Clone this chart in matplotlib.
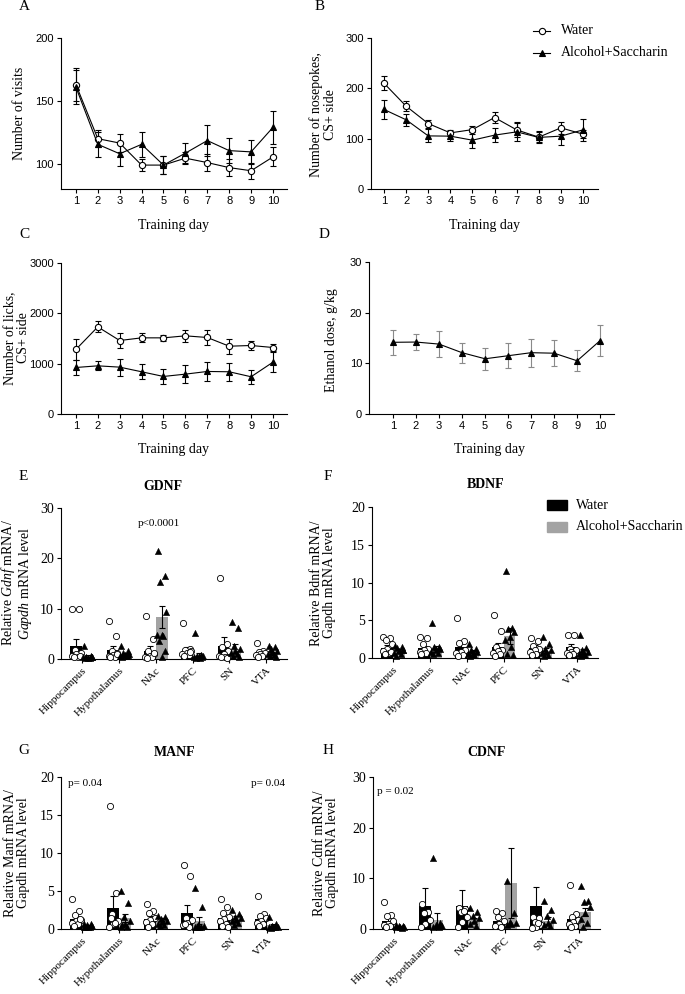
import numpy as np
import matplotlib
matplotlib.use('Agg')
import matplotlib.pyplot as plt
from matplotlib.lines import Line2D
from matplotlib.patches import Rectangle

plt.rcParams['font.family'] = 'Liberation Serif'
plt.rcParams['mathtext.fontset'] = 'custom'
plt.rcParams['mathtext.rm'] = 'Liberation Serif'
plt.rcParams['mathtext.it'] = 'Liberation Serif:italic'
plt.rcParams['axes.linewidth'] = 0.8

W, H = 685, 994
SANS = 'Liberation Sans'
GREY = '#a3a3a3'

# ---- behaviour data (mean, SEM per training day) ----
days = np.arange(1, 11)

visits_water = [163, 120, 116.5, 99, 99, 104.5, 101, 97, 94.5, 105.5]
visits_water_sem = [13, 7, 7, 5, 7, 5, 7, 6.5, 6.5, 7.5]
visits_alc = [161, 115.5, 108, 115.5, 99, 108.5, 118.5, 110.5, 109.5, 129]
visits_alc_sem = [13.5, 10, 9.5, 10, 7, 8, 12, 10, 9.5, 13]

nose_water = [210, 164.5, 130, 111.5, 118, 142, 117.5, 103, 121.5, 109]
nose_water_sem = [14, 10, 8, 6, 8, 11, 15, 12, 12, 8]
nose_alc = [158, 137.5, 105.5, 105, 97, 107, 113.5, 102.5, 105, 117.5]
nose_alc_sem = [18, 12, 13, 10, 16, 14, 18, 10, 18, 22]

licks_water = [1282, 1731, 1460, 1513, 1513, 1553, 1520, 1347, 1361, 1321]
licks_water_sem = [200, 110, 150, 90, 60, 120, 140, 150, 90, 60]
licks_alc = [924, 957, 931, 839, 746, 792, 845, 839, 740, 1030]
licks_alc_sem = [150, 90, 170, 150, 150, 180, 190, 180, 140, 200]

dose = [14.15, 14.2, 13.8, 12.1, 10.9, 11.5, 12.1, 12.0, 10.5, 14.5]
dose_sem = [2.5, 1.6, 2.5, 2.0, 2.2, 2.5, 2.8, 2.6, 2.1, 3.0]

# ---- qPCR data ----
regions = ['Hippocampus', 'Hypothalamus', 'NAc', 'PFC', 'SN', 'VTA']

gdnf_water_mean = [2.65, 1.85, 1.5, 1.6, 2.65, 1.45]
gdnf_water_sem = [1.25, 0.8, 1.1, 0.8, 1.75, 0.3]
gdnf_alc_mean = [0.45, 0.9, 8.3, 0.6, 2.05, 1.1]
gdnf_alc_sem = [0.25, 0.25, 2.2, 0.5, 0.85, 0.25]
gdnf_water_pts = [[10.0, 10.0, 1.8, 1.2, 0.9, 0.6, 0.4, 0.3, 0.5],
                  [7.5, 4.6, 1.5, 1.2, 0.8, 0.6, 0.4, 0.3, 0.9],
                  [8.5, 3.9, 1.5, 1.0, 0.6, 0.4, 0.3, 0.2, 1.2],
                  [7.2, 2.0, 1.8, 1.5, 1.2, 1.0, 0.7, 0.5, 1.4],
                  [16.0, 2.9, 2.4, 1.5, 1.0, 0.6, 0.4, 0.3, 0.2],
                  [3.1, 1.6, 1.4, 1.2, 1.0, 0.8, 0.6, 0.4]]
gdnf_alc_pts = [[2.6, 0.6, 0.4, 0.3, 0.2, 0.3, 0.2, 0.1, 0.4],
                [2.6, 1.5, 1.2, 0.9, 0.8, 0.6, 0.5, 0.4, 0.7],
                [21.5, 16.5, 15.3, 9.4, 4.8, 4.7, 4.6, 3.6, 1.5, 0.3],
                [5.1, 0.8, 0.6, 0.5, 0.4, 0.3, 0.2, 0.2, 0.3],
                [7.4, 6.1, 2.5, 2.0, 1.5, 1.2, 0.9, 0.6, 0.4],
                [2.6, 2.3, 2.0, 1.6, 1.3, 1.0, 0.8, 0.6, 0.4]]

bdnf_water_mean = [1.37, 1.35, 1.5, 1.45, 1.37, 1.5]
bdnf_water_sem = [0.3, 0.3, 0.6, 0.6, 0.3, 0.35]
bdnf_alc_mean = [1.0, 1.3, 0.85, 2.9, 0.97, 0.85]
bdnf_alc_sem = [0.15, 0.3, 0.2, 1.1, 0.3, 0.3]
bdnf_water_pts = [[2.8, 2.6, 2.4, 1.9, 1.2, 0.9, 0.7, 0.5, 0.8],
                  [2.8, 2.7, 1.8, 1.2, 1.0, 0.8, 0.6, 0.5],
                  [5.25, 2.2, 2.0, 1.1, 0.8, 0.6, 0.4, 0.2],
                  [5.65, 3.6, 1.4, 1.1, 0.9, 0.7, 0.5, 0.3],
                  [2.7, 2.2, 1.6, 1.2, 1.0, 0.8, 0.5, 0.4],
                  [3.0, 3.0, 1.2, 1.0, 0.8, 0.6, 0.5, 0.4]]
bdnf_alc_pts = [[1.6, 1.5, 1.3, 1.1, 0.9, 0.7, 0.5, 0.3, 1.0],
                [4.6, 1.5, 1.4, 1.2, 1.0, 0.8, 0.6, 0.5],
                [1.9, 1.2, 1.0, 0.8, 0.6, 0.5, 0.4, 0.3],
                [11.5, 3.95, 3.9, 3.5, 2.8, 2.4, 1.5, 0.5, 0.45],
                [2.8, 1.85, 1.2, 1.0, 0.8, 0.6, 0.4, 0.3],
                [3.0, 1.3, 1.0, 0.8, 0.6, 0.5, 0.4, 0.3]]

manf_water_mean = [1.27, 2.7, 1.3, 2.15, 1.4, 1.35]
manf_water_sem = [0.43, 1.6, 0.45, 0.95, 0.55, 0.3]
manf_alc_mean = [0.4, 1.45, 1.2, 1.1, 1.4, 0.5]
manf_alc_sem = [0.1, 0.55, 0.2, 0.5, 0.3, 0.15]
manf_water_pts = [[3.9, 2.35, 1.8, 1.2, 1.0, 0.8, 0.6, 0.4, 1.3],
                  [16.2, 4.8, 2.0, 1.0, 0.6, 0.3, 0.8, 1.4],
                  [3.3, 2.35, 2.1, 1.5, 1.2, 0.9, 0.6, 0.3],
                  [8.4, 7.0, 1.5, 1.2, 0.8, 0.5, 0.3, 0.6],
                  [4.0, 2.9, 2.1, 1.6, 1.3, 1.0, 0.7, 0.4, 0.3],
                  [4.3, 2.0, 1.75, 1.4, 1.1, 0.8, 0.6, 0.4]]
manf_alc_pts = [[0.7, 0.6, 0.5, 0.4, 0.3, 0.3, 0.2, 0.2],
                [5.0, 3.4, 1.6, 1.0, 0.6, 0.3, 0.2, 0.5],
                [1.75, 1.6, 1.3, 1.1, 0.9, 0.7, 0.5, 0.4],
                [5.35, 2.85, 0.5, 0.4, 0.3, 0.2, 0.3, 0.2],
                [2.5, 2.0, 1.6, 1.4, 1.2, 1.0, 0.8, 0.5],
                [1.6, 0.6, 0.4, 0.3, 0.3, 0.2, 0.2, 0.1]]

cdnf_water_mean = [1.65, 4.6, 4.5, 1.65, 4.6, 2.05]
cdnf_water_sem = [0.75, 3.4, 3.25, 0.5, 3.6, 0.8]
cdnf_alc_mean = [0.4, 1.7, 1.8, 9.0, 1.65, 3.4]
cdnf_alc_sem = [0.1, 1.4, 0.4, 6.9, 0.7, 0.8]
cdnf_water_pts = [[5.3, 2.75, 2.6, 1.5, 1.0, 0.7, 0.5, 0.3],
                  [4.9, 3.4, 3.2, 1.8, 1.0, 0.45],
                  [4.2, 4.0, 3.4, 2.4, 1.45, 0.45, 3.6],
                  [3.55, 3.1, 2.4, 1.5, 1.0, 0.6, 0.3],
                  [2.4, 2.1, 1.45, 0.8, 0.45, 0.1, 1.2],
                  [8.7, 2.95, 2.4, 1.8, 1.4, 1.0, 0.6, 0.3]]
cdnf_alc_pts = [[0.8, 0.6, 0.5, 0.4, 0.3, 0.3, 0.2],
                [13.95, 1.25, 0.8, 0.6, 0.5, 0.3, 0.4],
                [4.2, 3.4, 2.6, 2.1, 1.5, 1.0, 0.6],
                [9.45, 3.1, 1.45, 1.1, 1.0, 0.8],
                [5.5, 3.75, 2.55, 1.8, 1.25, 0.8, 0.5],
                [8.5, 5.5, 5.25, 4.3, 3.1, 1.9, 1.1, 0.45]]

# jitter pattern for the dots inside each bar
jitter = np.array([-0.10, 0.08, -0.04, 0.12, 0.0, -0.12, 0.05, -0.07, 0.10, 0.02])

fig = plt.figure(figsize=(W / 100, H / 100), dpi=100)


def make_ax(l, t, r, b):
    return fig.add_axes([l / W, 1 - b / H, (r - l) / W, (b - t) / H])


def ftext(x, y, s, **kw):
    kw.setdefault('ha', 'center')
    kw.setdefault('va', 'center')
    fig.text(x / W, 1 - y / H, s, **kw)


def line_panel(ax, series, ylim, yticks, xlim):
    for mean, sem, marker, face, ecol in series:
        ax.errorbar(days, mean, yerr=sem, color='black', ecolor=ecol, lw=0.8,
                    elinewidth=0.8, capsize=2, capthick=0.8, marker=marker,
                    ms=4.5, mfc=face, mec='black', mew=0.8, clip_on=False)
    ax.set_xlim(xlim)
    ax.set_ylim(ylim)
    ax.set_xticks(days, labels=[str(d) for d in days], fontfamily=SANS, fontsize=8)
    ax.set_yticks(yticks, labels=[str(v) for v in yticks], fontfamily=SANS, fontsize=8)
    ax.spines[['top', 'right']].set_visible(False)
    ax.tick_params(length=3, width=0.8, pad=2)


def bar_panel(ax, wmean, wsem, amean, asem, wpts, apts, ylim, yticks):
    x = np.arange(len(regions))
    bw = 0.32
    ax.bar(x - bw / 2, wmean, bw, color='black', zorder=1)
    ax.bar(x + bw / 2, amean, bw, color=GREY, zorder=1)
    ax.errorbar(x - bw / 2, wmean, yerr=wsem, fmt='none', ecolor='black',
                elinewidth=0.8, capsize=2, capthick=0.8, zorder=2)
    ax.errorbar(x + bw / 2, amean, yerr=asem, fmt='none', ecolor='black',
                elinewidth=0.8, capsize=2, capthick=0.8, zorder=2)
    for i in range(len(regions)):
        pw = np.array(wpts[i])
        pa = np.array(apts[i])
        ax.scatter(x[i] - bw / 2 + jitter[:len(pw)], pw, marker='o', s=20,
                   facecolor='white', edgecolor='black', linewidth=0.6,
                   zorder=3, clip_on=False)
        ax.scatter(x[i] + bw / 2 + jitter[:len(pa)], pa, marker='^', s=20,
                   facecolor='black', edgecolor='black', linewidth=0.4,
                   zorder=3, clip_on=False)
    ax.set_ylim(ylim)
    ax.set_xlim(-0.57, 5.56)
    ax.set_yticks(yticks, labels=[str(v) for v in yticks], fontsize=10)
    ax.set_xticks(x, labels=regions, rotation=45, ha='right',
                  rotation_mode='anchor', fontsize=8)
    ax.spines[['top', 'right']].set_visible(False)
    ax.tick_params(length=3, width=0.8, pad=2)


# ---- A ----
axA = make_ax(61, 38, 287, 189)
line_panel(axA, [(visits_water, visits_water_sem, 'o', 'white', 'black'),
                 (visits_alc, visits_alc_sem, '^', 'black', 'black')],
           (80, 200), [100, 150, 200], (0.32, 10.64))

# ---- B ----
axB = make_ax(371, 38, 598, 189)
line_panel(axB, [(nose_water, nose_water_sem, 'o', 'white', 'black'),
                 (nose_alc, nose_alc_sem, '^', 'black', 'black')],
           (0, 300), [0, 100, 200, 300], (0.41, 10.68))

# ---- C ----
axC = make_ax(61, 263, 287, 414)
line_panel(axC, [(licks_water, licks_water_sem, 'o', 'white', 'black'),
                 (licks_alc, licks_alc_sem, '^', 'black', 'black')],
           (0, 3000), [0, 1000, 2000, 3000], (0.32, 10.64))

# ---- D ----
axD = make_ax(369, 262, 614, 414)
line_panel(axD, [(dose, dose_sem, '^', 'black', '#8a8a8a')],
           (0, 30), [0, 10, 20, 30], (-0.04, 10.6))

# ---- E-H ----
axE = make_ax(61, 508, 287, 659)
bar_panel(axE, gdnf_water_mean, gdnf_water_sem, gdnf_alc_mean, gdnf_alc_sem,
          gdnf_water_pts, gdnf_alc_pts, (0, 30), [0, 10, 20, 30])
axF = make_ax(372, 507, 598, 658)
bar_panel(axF, bdnf_water_mean, bdnf_water_sem, bdnf_alc_mean, bdnf_alc_sem,
          bdnf_water_pts, bdnf_alc_pts, (0, 20), [0, 5, 10, 15, 20])
axG = make_ax(61, 777, 288, 929)
bar_panel(axG, manf_water_mean, manf_water_sem, manf_alc_mean, manf_alc_sem,
          manf_water_pts, manf_alc_pts, (0, 20), [0, 5, 10, 15, 20])
axH = make_ax(373, 777, 600, 929)
bar_panel(axH, cdnf_water_mean, cdnf_water_sem, cdnf_alc_mean, cdnf_alc_sem,
          cdnf_water_pts, cdnf_alc_pts, (0, 30), [0, 10, 20, 30])

# panel letters
for letter, (x, y) in zip('ABCDEFGH', [(24, 7), (320, 7), (24, 235), (324, 235),
                                       (23, 477), (328, 477), (24, 750), (328, 750)]):
    ftext(x, y, letter, fontsize=11)

# axis labels
ftext(20, 113, 'Number of visits', rotation=90, fontsize=10)
ftext(323, 115, 'Number of nosepokes,\nCS+ side', rotation=90, fontsize=10, linespacing=1.05)
ftext(17, 338, 'Number of licks,\nCS+ side', rotation=90, fontsize=10, linespacing=1.05)
ftext(331, 340, 'Ethanol dose, g/kg', rotation=90, fontsize=10)
ftext(17, 583, 'Relative $\\mathit{Gdnf}$ mRNA/\n$\\mathit{Gapdh}$ mRNA level',
      rotation=90, fontsize=10, linespacing=1.0)
ftext(323, 583, 'Relative Bdnf mRNA/\nGapdh mRNA level', rotation=90, fontsize=10, linespacing=1.05)
ftext(17, 853, 'Relative Manf mRNA/\nGapdh mRNA level', rotation=90, fontsize=10, linespacing=1.05)
ftext(326, 853, 'Relative Cdnf mRNA/\nGapdh mRNA level', rotation=90, fontsize=10, linespacing=1.05)

for x, y in [(174, 225), (485, 225), (174, 450), (490, 450)]:
    ftext(x, y, 'Training day', fontsize=10)

# titles and statistics
ftext(163, 486, 'GDNF', fontsize=10, fontweight='bold')
ftext(486, 485, 'BDNF', fontsize=10, fontweight='bold')
ftext(175, 753, 'MANF', fontsize=10, fontweight='bold')
ftext(487, 753, 'CDNF', fontsize=10, fontweight='bold')
ftext(159, 523, 'p<0.0001', fontsize=8)
ftext(68, 784, 'p= 0.04', fontsize=8, ha='left')
ftext(251, 784, 'p= 0.04', fontsize=8, ha='left')
ftext(377, 792, 'p = 0.02', fontsize=8, ha='left')

# legend for line panels
for y, marker, face, label in [(31, 'o', 'white', 'Water'), (53, '^', 'black', 'Alcohol+Saccharin')]:
    fig.add_artist(Line2D([533 / W, 550 / W], [1 - y / H, 1 - y / H], color='black', lw=0.8,
                          transform=fig.transFigure))
    fig.add_artist(Line2D([541.5 / W], [1 - y / H], marker=marker, ms=4.5, mfc=face,
                          mec='black', mew=0.8, transform=fig.transFigure))
    ftext(561, y, label, fontsize=10, ha='left')

# legend for bar panels
for y, col, label in [(505, 'black', 'Water'), (527, GREY, 'Alcohol+Saccharin')]:
    fig.add_artist(Rectangle((547 / W, 1 - (y + 5) / H), 20 / W, 10 / H, color=col,
                             transform=fig.transFigure))
    ftext(576, y, label, fontsize=10, ha='left')

plt.savefig('out.png', dpi=100)
